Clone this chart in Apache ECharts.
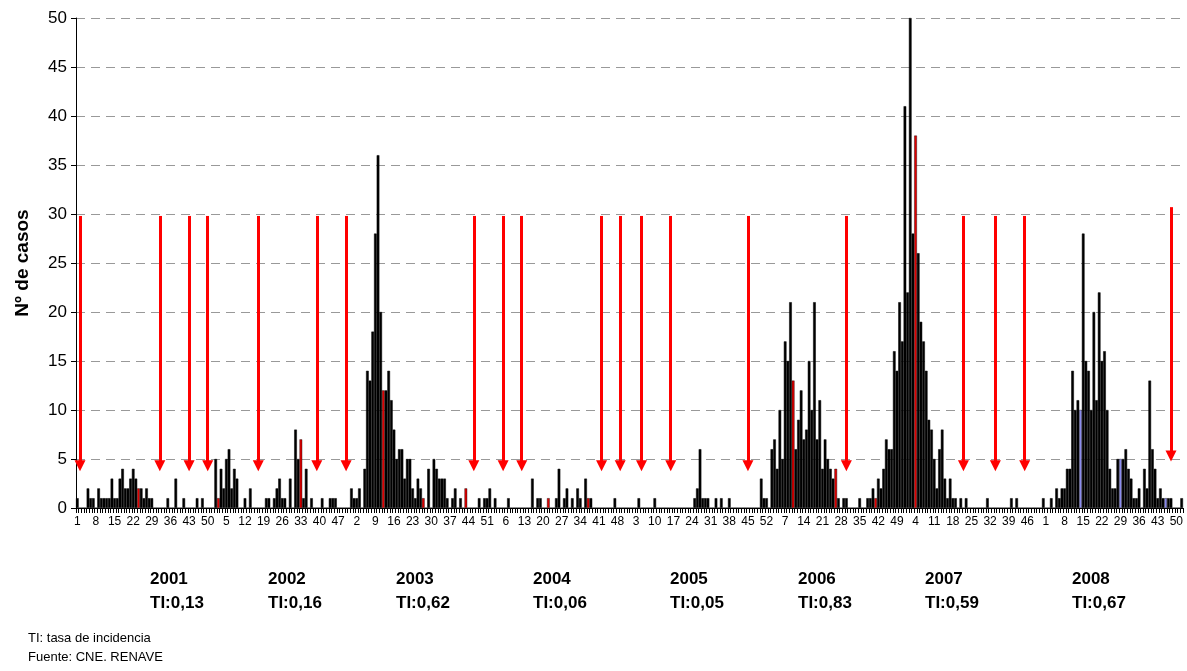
<!DOCTYPE html>
<html>
<head>
<meta charset="utf-8">
<script src="https://cdn.jsdelivr.net/npm/echarts@6/dist/echarts.min.js"></script>
<style>
html,body{margin:0;padding:0;background:#fff;}
#chart{width:1187px;height:671px;}
</style>
</head>
<body>
<div id="chart"></div>
<script>
// ---------- DATA ----------
const years = [2001, 2002, 2003, 2004, 2005, 2006, 2007, 2008];
const incidenceRates = ['0,13', '0,16', '0,62', '0,06', '0,05', '0,83', '0,59', '0,67'];

// weekly cases, weeks 1..52
const cases2001 = [1,0,0,0,2,1,1,0,2,1, 1,1,1,3,1,1,3,4,2,2, 3,4,3,2,2,1,2,1,1,0, 0,0,0,0,1,0,0,3,0,0, 1,0,0,0,0,1,0,1,0,0, 0,0];
const cases2002 = [5,1,4,2,5,6,2,4,3,0, 0,1,0,2,0,0,0,0,0,1, 1,0,1,2,3,1,1,0,3,0, 8,5,7,1,4,0,1,0,0,0, 1,0,0,1,1,1,0,0,0,0, 0,2];
const cases2003 = [1,1,2,0,4,14,13,18,28,36, 20,12,12,14,11,8,5,6,6,3, 5,5,2,1,3,2,1,0,4,0, 5,4,3,3,3,1,0,1,2,0, 1,0,2,0,0,0,0,1,0,1, 1,2];
const cases2004 = [0,1,0,0,0,0,1,0,0,0, 0,0,0,0,0,3,0,1,1,0, 0,1,0,0,1,4,0,1,2,0, 1,0,2,1,0,3,1,1,0,0, 0,0,0,0,0,0,1,0,0,0, 0,0];
const cases2005 = [0,0,0,1,0,0,0,0,0,1, 0,0,0,0,0,0,0,0,0,0, 0,0,0,0,1,2,6,1,1,1, 0,0,1,0,1,0,0,1,0,0, 0,0,0,0,0,0,0,0,0,3, 1,1];
const cases2006 = [0,6,7,4,10,5,17,15,21,13, 6,9,12,7,8,15,10,21,7,11, 4,7,5,4,3,4,1,0,1,1, 0,0,0,0,1,0,0,1,1,2, 1,3,2,4,7,6,6,16,14,21, 17,41];
const cases2007 = [22,50,28,38,26,19,17,14,9,8, 5,2,6,8,3,1,3,1,1,0, 1,0,1,0,0,0,0,0,0,0, 1,0,0,0,0,0,0,0,0,1, 0,1,0,0,0,0,0,0,0,0, 0,1];
const cases2008 = [0,0,1,0,2,1,2,2,4,4, 14,10,11,10,28,15,14,10,20,11, 22,15,16,10,4,2,2,5,5,5, 6,4,3,1,1,2,0,4,2,13, 6,4,1,2,1,1,1,1,0,0, 0,1];
const casesByYear = [cases2001, cases2002, cases2003, cases2004, cases2005, cases2006, cases2007, cases2008];

// highlighted weeks (drawn in another colour in the source)
const redWeeks  = [[2001,24],[2002,2],[2002,33],[2003,12],[2003,27],[2003,43],[2004,22],[2004,37],[2006,10],[2006,26],[2006,41],[2007,4]];
const blueWeeks = [[2008,14],[2008,29],[2008,46]];

// arrows: [year, week, top value, bottom value]
const arrows = [
  [2001,2,29.8,4.3],[2001,32,29.8,4.3],[2001,43,29.8,4.3],[2001,50,29.8,4.3],
  [2002,17,29.8,4.3],[2002,39,29.8,4.3],[2002,50,29.8,4.3],
  [2003,46,29.8,4.3],
  [2004,5,29.8,4.3],[2004,12,29.8,4.3],[2004,42,29.8,4.3],[2004,49,29.8,4.3],
  [2005,5,29.8,4.3],[2005,16,29.8,4.3],[2005,45,29.8,4.3],
  [2006,30,29.8,4.3],
  [2007,22,29.8,4.3],[2007,34,29.8,4.3],[2007,45,29.8,4.3],
  [2008,48,30.7,5.3]
];

const yTicks = {min: 0, max: 50, step: 5};
const weeksPerYear = 52;

// ---------- BUILD ----------
const idx = (y, w) => (y - years[0]) * weeksPerYear + (w - 1);
const redSet = new Set(redWeeks.map(([y, w]) => idx(y, w)));
const blueSet = new Set(blueWeeks.map(([y, w]) => idx(y, w)));

const categories = [];
const barData = [];
years.forEach((y, yi) => {
  casesByYear[yi].forEach((v, wi) => {
    const i = categories.length;
    categories.push(y + '-' + (wi + 1));
    const item = {value: v};
    if (redSet.has(i)) item.itemStyle = {color: '#e00000', borderColor: '#000', borderWidth: 0.4};
    else if (blueSet.has(i)) item.itemStyle = {color: '#8c8cf0', borderColor: '#000', borderWidth: 0.4};
    barData.push(item);
  });
});

const arrowLines = arrows.map(([y, w, top, bottom]) => [
  {coord: [idx(y, w), top]},
  {coord: [idx(y, w), bottom]}
]);

const FONT = '"Liberation Sans", Arial, sans-serif';
const yearLabelLeft = [150, 268, 396, 533, 670, 798, 925, 1072];

const graphics = years.map((y, i) => ({
  type: 'text', left: yearLabelLeft[i], top: 567,
  style: {text: y + '\nTI:' + incidenceRates[i], font: 'bold 17px ' + FONT, fill: '#000', lineHeight: 24}
}));
graphics.push({
  type: 'text', left: 28, top: 629,
  style: {text: 'TI: tasa de incidencia\nFuente: CNE. RENAVE', font: '13px ' + FONT, fill: '#000', lineHeight: 19}
});

const chart = echarts.init(document.getElementById('chart'), null, {renderer: 'canvas'});
chart.setOption({
  animation: false,
  backgroundColor: '#fff',
  grid: {left: 76, right: 4, top: 18, bottom: 163, containLabel: false},
  xAxis: {
    type: 'category',
    data: categories,
    boundaryGap: true,
    axisLine: {show: true, lineStyle: {color: '#000', width: 1}},
    axisTick: {show: true, interval: 0, length: 5, lineStyle: {color: '#000'}},
    axisLabel: {
      interval: 6, margin: 8, color: '#000', fontSize: 12, fontFamily: FONT,
      formatter: v => v.split('-')[1]
    },
    splitLine: {show: false}
  },
  yAxis: {
    type: 'value',
    min: yTicks.min, max: yTicks.max, interval: yTicks.step,
    name: 'Nº de casos',
    nameLocation: 'middle',
    nameRotate: 90,
    nameGap: 44,
    nameTextStyle: {fontSize: 19, fontWeight: 'bold', color: '#000', fontFamily: FONT},
    axisLine: {show: true, lineStyle: {color: '#000', width: 1}},
    axisTick: {show: true, length: 5, lineStyle: {color: '#000'}},
    axisLabel: {color: '#000', fontSize: 17, fontFamily: FONT, margin: 9},
    splitLine: {show: true, lineStyle: {color: '#999', type: [9, 6], width: 1}}
  },
  series: [{
    type: 'bar',
    data: barData,
    barCategoryGap: '0%',
    itemStyle: {color: '#000', borderColor: '#000', borderWidth: 0.5},
    silent: true,
    markLine: {
      silent: true,
      symbol: ['none', 'triangle'],
      symbolSize: 11,
      label: {show: false},
      lineStyle: {color: '#ff0000', width: 3, type: 'solid'},
      emphasis: {disabled: true},
      data: arrowLines
    }
  }],
  graphic: graphics
});
</script>
</body>
</html>
